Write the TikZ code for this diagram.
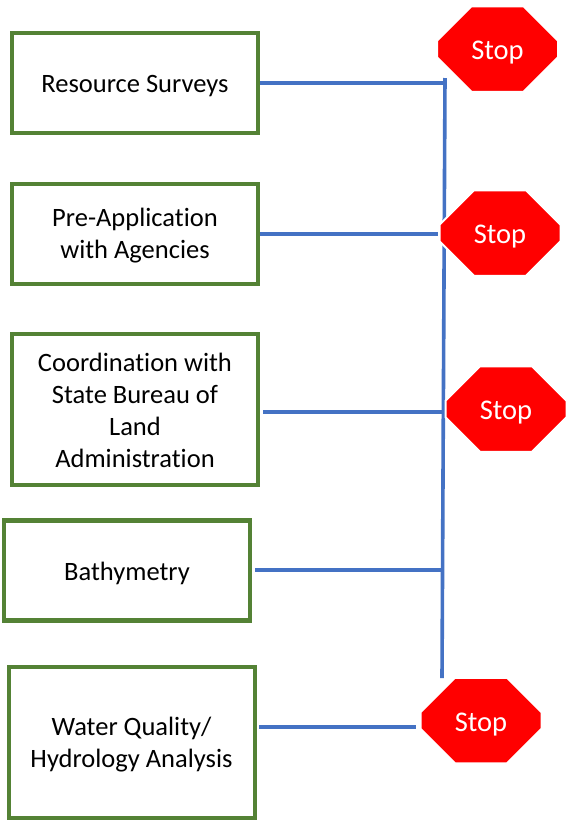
\documentclass[tikz,border=0pt]{standalone}
\usepackage{fontspec}
\setmainfont[Ligatures=NoCommon]{Carlito}
\usetikzlibrary{shapes.misc}
\definecolor{boxgreen}{HTML}{548235}
\definecolor{linkblue}{HTML}{4472C4}
\tikzset{
  stepbox/.style={draw=boxgreen,line width=4.2pt,fill=white,minimum width=246pt,inner sep=0pt},
  steptext/.style={align=center,inner sep=0pt,yshift=-2.5pt,font=\fontsize{26.5}{32}\selectfont,text=black},
  stopsign/.style={chamfered rectangle,chamfered rectangle xsep=24pt,chamfered rectangle ysep=24pt,
    fill=red,draw=white,line width=2pt,minimum width=121pt,minimum height=85.5pt,inner sep=0pt,
    text height=21pt,text depth=0pt,text=white,font=\fontsize{28.5}{32}\selectfont},
  link/.style={draw=linkblue,line width=3.6pt}
}
\begin{document}
\begin{tikzpicture}[x=1pt,y=-1pt]
\useasboundingbox (0,0) rectangle (567,820);
\node[stepbox,minimum height=100pt,label={[steptext,yshift=-0.5pt]center:Resource Surveys}] (b1) at (135,83) {};
\node[stepbox,minimum height=100pt,label={[steptext,yshift=1pt]center:{Pre-Application\\with Agencies}}] (b2) at (135,234) {};
\node[stepbox,minimum height=151pt,label={[steptext,yshift=2pt]center:{Coordination with\\State Bureau of\\Land\\Administration}}] (b3) at (135,409.5) {};
\node[stepbox,minimum height=100pt,label={[steptext]center:Bathymetry}] (b4) at (127,570.5) {};
\node[stepbox,minimum height=151pt,label={[steptext,xshift=-0.5pt]center:{Water Quality/\\Hydrology Analysis}}] (b5) at (132,742.5) {};
\coordinate (top) at (445,78);
\coordinate (bot) at (442,678);
\coordinate (j1) at (445,83);
\coordinate (j2) at (438,234);
\coordinate (j3) at (444,412);
\coordinate (j4) at (443,570);
\coordinate (j5) at (416,727);
\coordinate (o3) at (263,412);
\coordinate (o4) at (255,570);
\coordinate (o5) at (259,727);
\path[link] (top) -- (bot);
\path[link] (b1.east) -- (j1);
\path[link] (b2.east) -- (j2);
\path[link] (o3) -- (j3);
\path[link] (o4) -- (j4);
\path[link] (o5) -- (j5);
\node[stopsign] (s1) at (497.5,49) {Stop};
\node[stopsign] (s2) at (500,233) {Stop};
\node[stopsign] (s3) at (506,409) {Stop};
\node[stopsign] (s4) at (481,720.5) {Stop};
\end{tikzpicture}
\end{document}
